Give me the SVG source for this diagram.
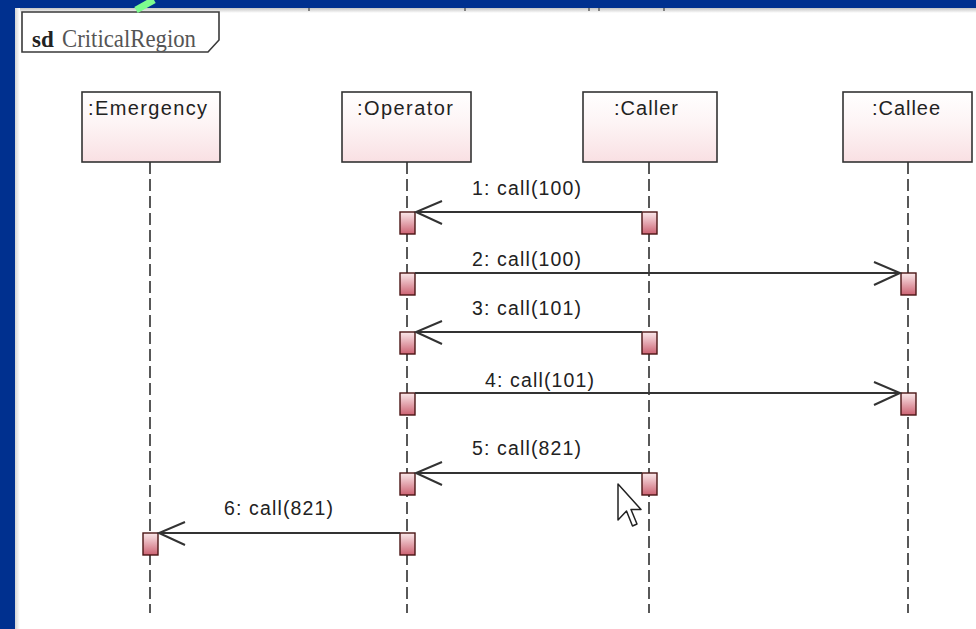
<svg xmlns="http://www.w3.org/2000/svg" width="976" height="629" viewBox="0 0 976 629">
<defs>
<linearGradient id="boxg" x1="0" y1="0" x2="0" y2="1">
<stop offset="0" stop-color="#ffffff"/>
<stop offset="0.45" stop-color="#fdf4f5"/>
<stop offset="1" stop-color="#f9e0e3"/>
</linearGradient>
<linearGradient id="barg" x1="0" y1="0" x2="0" y2="1">
<stop offset="0" stop-color="#fbe9eb"/>
<stop offset="1" stop-color="#cc6272"/>
</linearGradient>
<linearGradient id="topsh" x1="0" y1="0" x2="0" y2="1">
<stop offset="0" stop-color="#c4c4c4"/>
<stop offset="1" stop-color="#ffffff"/>
</linearGradient>
<linearGradient id="leftsh" x1="0" y1="0" x2="1" y2="0">
<stop offset="0" stop-color="#d4d4d4"/>
<stop offset="1" stop-color="#ffffff"/>
</linearGradient>
</defs>
<style>
.box{fill:url(#boxg);stroke:#333;stroke-width:1.6}
.life{stroke:#222;stroke-width:1.5;stroke-dasharray:12 5;fill:none}
.bar{fill:url(#barg);stroke:#4a1414;stroke-width:1.4}
.name{font-family:"Liberation Sans",Arial,sans-serif;font-size:20px;fill:#222}
.msg{stroke:#333;stroke-width:2;fill:none}
.lbl{font-family:"Liberation Sans",Arial,sans-serif;font-size:19.5px;fill:#222}
</style>
<rect x="0" y="0" width="976" height="629" fill="#00308f"/>
<rect x="15" y="8" width="961" height="621" fill="#ffffff"/>
<rect x="15" y="8" width="961" height="5" fill="url(#topsh)"/>
<rect x="15" y="8" width="5" height="621" fill="url(#leftsh)"/>
<g id="top-fragments" stroke="#444" stroke-width="1.2">
<line x1="309" y1="8" x2="309" y2="11"/>
<line x1="465" y1="8" x2="465" y2="11"/>
<line x1="589" y1="8" x2="589" y2="11"/>
<line x1="599" y1="8" x2="599" y2="11"/>
<line x1="664" y1="8" x2="664" y2="11"/>
</g>
<g id="frame">
<polygon points="22,12 219,12 219,40 208,52 22,52" fill="#ffffff" stroke="#3a3a3a" stroke-width="1.6"/>
<text x="32" y="47" font-family="'Liberation Serif','Times New Roman',serif" font-size="23" fill="#222" font-weight="bold">sd</text>
<text x="62" y="47" font-family="'Liberation Serif','Times New Roman',serif" font-size="25" fill="#555" textLength="134" lengthAdjust="spacingAndGlyphs">CriticalRegion</text>
</g>
<line x1="136" y1="10" x2="154" y2="0" stroke="#7dfc8e" stroke-width="7"/>

<g id="emergency">
<line class="life" x1="150" y1="162" x2="150" y2="613"/>
<rect class="box" x="82" y="92" width="138" height="70"/>
<text class="name" x="88" y="115" textLength="119" lengthAdjust="spacing">:Emergency</text>
<rect class="bar" x="143" y="533" width="15" height="22"/>
</g>
<g id="operator">
<line class="life" x1="407" y1="162" x2="407" y2="613"/>
<rect class="box" x="342" y="92" width="129" height="70"/>
<text class="name" x="357" y="115" textLength="96" lengthAdjust="spacing">:Operator</text>
<rect class="bar" x="400" y="212" width="15" height="22"/>
<rect class="bar" x="400" y="273" width="15" height="22"/>
<rect class="bar" x="400" y="332" width="15" height="22"/>
<rect class="bar" x="400" y="393" width="15" height="22"/>
<rect class="bar" x="400" y="473" width="15" height="22"/>
<rect class="bar" x="400" y="533" width="15" height="22"/>
</g>
<g id="caller">
<line class="life" x1="649" y1="162" x2="649" y2="613"/>
<rect class="box" x="583" y="92" width="134" height="70"/>
<text class="name" x="614" y="115" textLength="64" lengthAdjust="spacing">:Caller</text>
<rect class="bar" x="642" y="212" width="15" height="22"/>
<rect class="bar" x="642" y="332" width="15" height="22"/>
<rect class="bar" x="642" y="473" width="15" height="22"/>
</g>
<g id="callee">
<line class="life" x1="908" y1="162" x2="908" y2="613"/>
<rect class="box" x="843" y="92" width="129" height="70"/>
<text class="name" x="872" y="115" textLength="68" lengthAdjust="spacing">:Callee</text>
<rect class="bar" x="901" y="273" width="15" height="22"/>
<rect class="bar" x="901" y="393" width="15" height="22"/>
</g>

<g id="connectors">
<g id="m1">
<line class="msg" x1="642" y1="212" x2="416" y2="212"/>
<polyline class="msg" points="442,201 416,212 442,224"/>
<text class="lbl" x="472" y="195" textLength="109" lengthAdjust="spacing">1: call(100)</text>
</g>
<g id="m2">
<line class="msg" x1="415" y1="273" x2="900" y2="273"/>
<polyline class="msg" points="874,262 900,273 874,285"/>
<text class="lbl" x="472" y="266" textLength="109" lengthAdjust="spacing">2: call(100)</text>
</g>
<g id="m3">
<line class="msg" x1="642" y1="332" x2="416" y2="332"/>
<polyline class="msg" points="442,321 416,332 442,344"/>
<text class="lbl" x="472" y="315" textLength="109" lengthAdjust="spacing">3: call(101)</text>
</g>
<g id="m4">
<line class="msg" x1="415" y1="393" x2="900" y2="393"/>
<polyline class="msg" points="874,382 900,393 874,405"/>
<text class="lbl" x="485" y="387" textLength="109" lengthAdjust="spacing">4: call(101)</text>
</g>
<g id="m5">
<line class="msg" x1="642" y1="473" x2="416" y2="473"/>
<polyline class="msg" points="442,462 416,473 442,485"/>
<text class="lbl" x="472" y="455" textLength="109" lengthAdjust="spacing">5: call(821)</text>
</g>
<g id="m6">
<line class="msg" x1="400" y1="533" x2="159" y2="533"/>
<polyline class="msg" points="185,522 159,533 185,545"/>
<text class="lbl" x="224" y="515" textLength="109" lengthAdjust="spacing">6: call(821)</text>
</g>
</g>

<g id="cursor">
<polygon points="618,484 618,520 626.5,511 632.5,526 637,524 631,509.5 641,509.5" fill="#ffffff" stroke="#222" stroke-width="1.5" stroke-linejoin="round"/>
</g>
</svg>
